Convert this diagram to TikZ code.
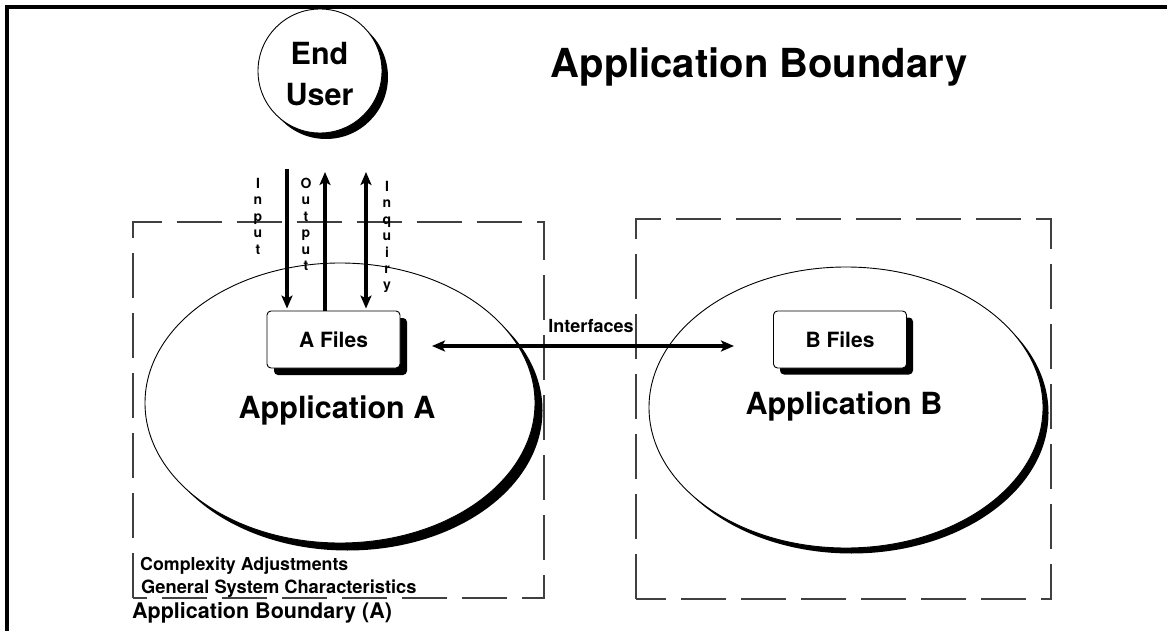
\documentclass[tikz,border=0pt]{standalone}
\usepackage{fontspec}
\setmainfont{TeX Gyre Heros}
\usetikzlibrary{shapes.geometric,shadows,arrows.meta}
\newcommand\bfsz[1]{\fontsize{#1}{#1}\selectfont\bfseries}
\begin{document}
\begin{tikzpicture}[x=1pt,y=-1pt,
  shadowed/.style={drop shadow={shadow xshift=#1,shadow yshift=-#1,opacity=1,fill=black}},
  appellipse/.style={ellipse,draw,line width=0.9pt,fill=white,inner sep=0pt},
  filebox/.style={rectangle,draw,line width=0.9pt,fill=white,rounded corners=4pt,
    minimum width=133pt,minimum height=57pt,inner sep=0pt,font=\bfsz{21}},
  boundary/.style={draw=black!75,line width=1.2pt,dash pattern=on 45pt off 15pt},
  tip/.tip={Stealth[length=13pt,width=11pt,inset=3pt]},
  flow/.style={line width=3.3pt,-tip},
  flowboth/.style={line width=3.3pt,tip-tip},
  vlabel/.style={align=center,inner sep=0pt,anchor=north,font=\fontsize{14}{16.4}\selectfont\bfseries},
  lbl/.style={inner sep=0pt}]
\useasboundingbox (0,0) rectangle (1167,631);

% page frame (top and left edges)
\draw[line width=3.3pt] (7,631) -- (7,7) -- (1167,7);

% applications
\node[appellipse,shadowed=7.5pt,minimum width=390pt,minimum height=280pt] (appA) at (340,403) {};
\node[appellipse,shadowed=5.5pt,minimum width=394pt,minimum height=281pt] (appB) at (846,407.5) {};

% boundaries
\draw[boundary] (133,598) -- (133,222) -- (544,222) -- (544,598) -- cycle;
\draw[boundary] (636,599) -- (636,219) -- (1051,219) -- (1051,599) -- cycle;

% title
\node[lbl,anchor=base,font=\bfsz{40}] (title) at (759,78) {Application Boundary};

% end user
\node[circle,draw,line width=0.9pt,fill=white,minimum size=124pt,inner sep=0pt,shadowed=6pt] (user) at (320,71) {};
\node[lbl,anchor=base,font=\bfsz{30.5}] (userA) at (319.5,65) {End};
\node[lbl,anchor=base,font=\bfsz{30.5}] (userB) at (319.5,106) {User};

% files
\node[filebox,shadowed=7pt] (afiles) at (333.5,339.5) {A Files};
\node[filebox,shadowed=6.5pt] (bfiles) at (840,339.5) {B Files};

% application names
\node[lbl,anchor=base,font=\bfsz{30.5}] (nameA) at (337,418) {Application A};
\node[lbl,anchor=base,font=\bfsz{30.5}] (nameB) at (844,414) {Application B};

% user flows
\coordinate (inTop) at (287,169);
\coordinate (outTop) at (325,172);
\coordinate (inqTop) at (366,172);
\draw[flow] (inTop) -- ([yshift=2pt]inTop |- afiles.north);
\draw[flow] (outTop |- afiles.north) -- (outTop);
\draw[flowboth] (inqTop) -- ([yshift=2pt]inqTop |- afiles.north);

\node[vlabel] (lin) at (258,178) {I\\n\\p\\u\\t};
\node[vlabel] (lout) at (306,178) {O\\u\\t\\p\\u\\t};
\node[vlabel] (linq) at (387,181) {I\\n\\q\\u\\i\\r\\y};

% interfaces
\coordinate (ifL) at (432,346);
\coordinate (ifR) at (734,346);
\draw[flowboth] (ifL) -- (ifR);
\node[lbl,anchor=base,font=\bfsz{18}] (iflabel) at (591,332) {Interfaces};

% boundary notes
\node[lbl,anchor=base west,font=\bfsz{17.8}] (cadj) at (140,570) {Complexity Adjustments};
\node[lbl,anchor=base west,font=\bfsz{18.3}] (gsc) at (141,593) {General System Characteristics};
\node[lbl,anchor=base west,font=\bfsz{21.5}] (bndA) at (132,618) {Application Boundary (A)};
\end{tikzpicture}
\end{document}
